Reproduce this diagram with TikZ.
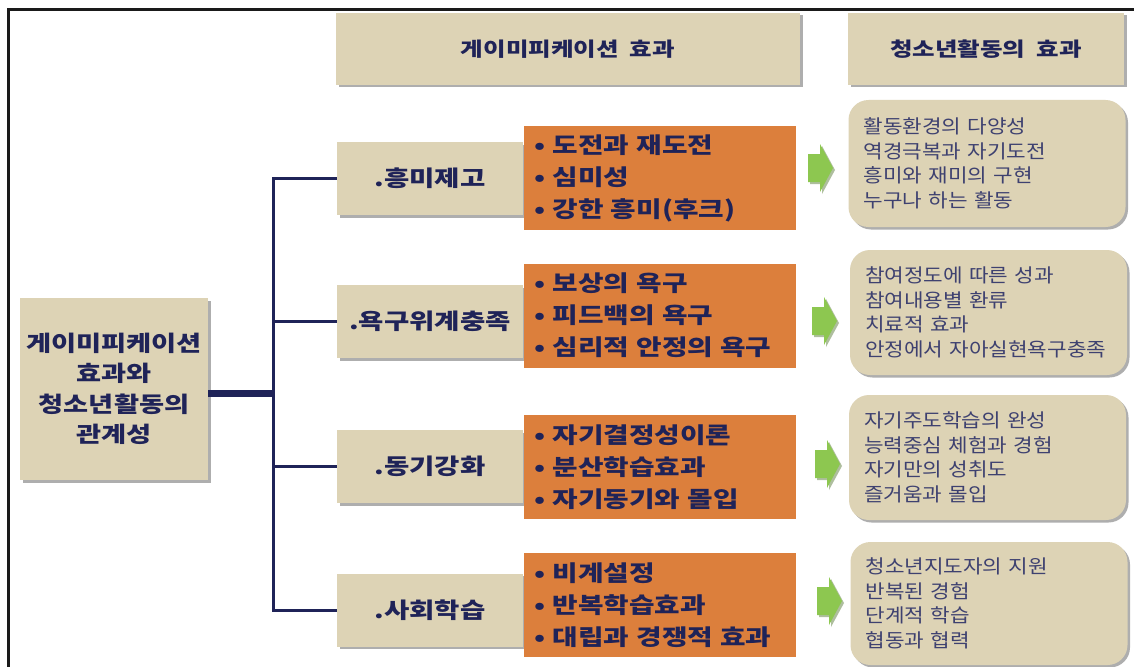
\documentclass[tikz,border=0pt]{standalone}
\usepackage{fontspec}
\newfontfamily\krh{Noto Sans CJK KR}[FakeStretch=1.25,WordSpace=2.0]
\newfontfamily\krl{Noto Sans CJK KR}[FakeStretch=1.12,WordSpace=2]
\usetikzlibrary{shadows}
\definecolor{beige}{HTML}{DDD3B5}
\definecolor{orng}{HTML}{DC7F3C}
\definecolor{navy}{HTML}{1F2358}
\definecolor{soft}{HTML}{3E4170}
\definecolor{grn}{HTML}{8DC750}
\definecolor{grndark}{HTML}{6E9F3C}
\definecolor{framec}{HTML}{1A1A1A}
\begin{document}
\begin{tikzpicture}[x=1pt,y=-1pt,
  bshadow/.style={drop shadow={shadow xshift=2.5pt,shadow yshift=-2.5pt,fill=black!45,opacity=0.7}},
  hdr/.style={fill=beige,bshadow,inner sep=0,minimum height=72pt,text=navy,
    font=\krh\bfseries\fontsize{19.6}{24}\selectfont},
  rootbox/.style={fill=beige,bshadow,inner sep=0,minimum width=188pt,minimum height=182pt,
    align=center,text=navy,font=\krh\bfseries\fontsize{21.8}{30.5}\selectfont},
  brbox/.style={fill=beige,bshadow,inner sep=0,minimum width=186pt,minimum height=73pt,
    text=navy,font=\krh\bfseries\fontsize{22}{26}\selectfont},
  orbox/.style={fill=orng,inner xsep=10pt,inner ysep=0,minimum width=272pt,minimum height=104pt,
    text width=252pt,align=left,text=navy,font=\krh\bfseries\fontsize{22.2}{32}\selectfont},
  rbox/.style={fill=beige,bshadow,rounded corners=20pt,inner xsep=15pt,inner ysep=0,
    text width=247pt,minimum height=125pt,align=left,text=soft,
    font=\krl\fontsize{19}{24.5}\selectfont},
  conn/.style={draw=navy,line width=3pt},
  pics/garrow/.style={code={
    \fill[grndark!70!black,opacity=0.45] (2,-12) -- (14,-12) -- (14,-22) -- (27,2) -- (14,26) -- (14,16) -- (2,16) -- cycle;
    \fill[grn] (0,-14) -- (12,-14) -- (12,-24) -- (25,0) -- (12,24) -- (12,14) -- (0,14) -- cycle;
  }}
]
\useasboundingbox (0,0) rectangle (1134,666);
\fill[white] (0,0) rectangle (1134,666);
% frame
\draw[framec,line width=3pt] (8,667) -- (8,10) -- (1134,10);

% headers
\node[hdr,minimum width=464pt] (h1) at (568,49) {게이미피케이션 효과};
\node[hdr,minimum width=276pt] (h2) at (986,49) {청소년활동의 효과};

% root
\node[rootbox] (root) at (114,389) {게이미피케이션\\효과와\\청소년활동의\\관계성};

% branch boxes
\node[brbox] (b1) at (430,178.5) {.흥미제고};
\node[brbox] (b2) at (430,321.5) {.욕구위계충족};
\node[brbox] (b3) at (430,466.5) {.동기강화};
\node[brbox] (b4) at (430,610) {.사회학습};

% connectors
\coordinate (hub) at (273,393);
\draw[navy,line width=7pt] (root.east |- hub) -- (hub);
\draw[conn] (hub) |- (b1.west);
\draw[conn] (hub) |- (b2.west);
\draw[conn] (hub) |- (b3.west);
\draw[conn] (hub) |- (b4.west);

% orange boxes
\node[orbox] (o1) at (660,178) {• 도전과 재도전\\• 심미성\\• 강한 흥미(후크)};
\node[orbox] (o2) at (660,315.5) {• 보상의 욕구\\• 피드백의 욕구\\• 심리적 안정의 욕구};
\node[orbox] (o3) at (660,467) {• 자기결정성이론\\• 분산학습효과\\• 자기동기와 몰입};
\node[orbox] (o4) at (660,605) {• 비계설정\\• 반복학습효과\\• 대립과 경쟁적 효과};

% green arrows
\pic (a1) at (808,168) {garrow};
\pic (a2) at (812,321) {garrow};
\pic (a3) at (815,464) {garrow};
\pic (a4) at (817,601) {garrow};

% right boxes
\node[rbox,minimum height=127pt] (r1) at (987,163.5) {활동환경의 다양성\\역경극복과 자기도전\\흥미와 재미의 구현\\누구나 하는 활동};
\node[rbox] (r2) at (988.5,312.5) {참여정도에 따른 성과\\참여내용별 환류\\치료적 효과\\안정에서 자아실현욕구충족};
\node[rbox] (r3) at (987.5,457.5) {자기주도학습의 완성\\능력중심 체험과 경험\\자기만의 성취도\\즐거움과 몰입};
\node[rbox,minimum height=123pt] (r4) at (989,603.5) {청소년지도자의 지원\\반복된 경험\\단계적 학습\\협동과 협력};
\end{tikzpicture}
\end{document}
